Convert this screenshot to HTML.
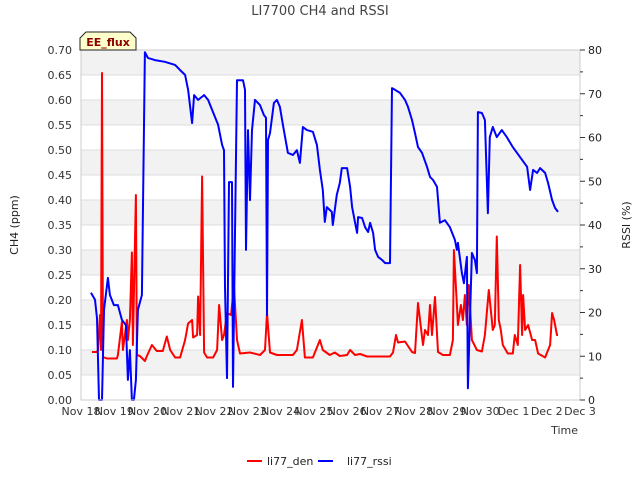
<!DOCTYPE html>
<html><head><meta charset="utf-8"><style>
body{margin:0;background:#fff;font-family:"DejaVu Sans","Liberation Sans",sans-serif}
svg text{font-family:"DejaVu Sans","Liberation Sans",sans-serif}
</style></head><body>
<svg id="chart" width="640" height="480" viewBox="0 0 640 480" xmlns="http://www.w3.org/2000/svg">
<text x="320" y="15" text-anchor="middle" font-size="13" fill="#444">LI7700 CH4 and RSSI</text>
<g id="bands"></g>
<g id="grid"></g>
<g id="series"></g>
<rect x="81" y="50" width="499" height="350" fill="none" stroke="#ccc"/>
<g id="axes"></g>
<text transform="translate(18,225) rotate(-90)" text-anchor="middle" font-size="11" fill="#222">CH4 (ppm)</text>
<text transform="translate(630,225) rotate(-90)" text-anchor="middle" font-size="11" fill="#222">RSSI (%)</text>
<text x="578" y="434" text-anchor="end" font-size="11" fill="#333">Time</text>
<g>
<path d="M80,38 L86,32 L130,32 L136,38 L136,50 L80,50 Z" fill="#ffffcc" stroke="#222"/>
<text x="108" y="46" text-anchor="middle" font-size="11" font-weight="bold" fill="#8b0000">EE_flux</text>
</g>
<g>
<g><line x1="247" y1="461" x2="262" y2="461" stroke="#f00" stroke-width="2"/><text x="267" y="465" font-size="11" fill="#222">li77_den</text></g>
<g><line x1="318" y1="461" x2="333" y2="461" stroke="#00f" stroke-width="2"/><text x="347" y="465" font-size="11" fill="#222">li77_rssi</text></g>
</g>
</svg>
<script>
const xTickLabels=["Nov 18","Nov 19","Nov 20","Nov 21","Nov 22","Nov 23","Nov 24","Nov 25","Nov 26","Nov 27","Nov 28","Nov 29","Nov 30","Dec 1","Dec 2","Dec 3"];
const leftTicks=[0,0.05,0.1,0.15,0.2,0.25,0.3,0.35,0.4,0.45,0.5,0.55,0.6,0.65,0.7];
const rightTicks=[0,10,20,30,40,50,60,70,80];
const denDays=[0.33,0.48,0.51,0.57,0.60,0.63,0.66,0.78,1.08,1.11,1.23,1.26,1.38,1.41,1.47,1.53,1.56,1.65,1.68,1.77,1.92,1.98,2.13,2.28,2.46,2.58,2.68,2.83,2.98,3.13,3.22,3.34,3.37,3.49,3.52,3.58,3.64,3.70,3.79,3.97,4.09,4.15,4.24,4.30,4.39,4.51,4.60,4.69,4.78,5.08,5.38,5.53,5.59,5.68,5.89,6.37,6.49,6.64,6.73,6.97,7.18,7.27,7.48,7.63,7.78,8.0,8.09,8.24,8.39,8.60,9.29,9.38,9.47,9.53,9.74,9.95,10.04,10.13,10.28,10.34,10.43,10.49,10.55,10.64,10.73,10.88,11.09,11.18,11.21,11.30,11.33,11.42,11.48,11.54,11.60,11.66,11.75,11.90,12.05,12.14,12.26,12.38,12.44,12.50,12.56,12.62,12.68,12.83,12.98,13.04,13.13,13.20,13.26,13.29,13.35,13.44,13.56,13.65,13.74,13.95,14.10,14.16,14.22,14.31,14.34];
const denValues=[0.096,0.096,0.10,0.17,0.10,0.654,0.086,0.083,0.083,0.09,0.156,0.10,0.16,0.12,0.16,0.295,0.11,0.41,0.09,0.088,0.078,0.088,0.11,0.098,0.098,0.127,0.10,0.085,0.085,0.12,0.153,0.16,0.125,0.13,0.207,0.13,0.447,0.095,0.085,0.085,0.10,0.19,0.12,0.13,0.174,0.17,0.227,0.12,0.093,0.095,0.09,0.10,0.174,0.095,0.09,0.09,0.10,0.16,0.085,0.085,0.12,0.10,0.09,0.095,0.088,0.09,0.10,0.09,0.092,0.087,0.087,0.095,0.13,0.115,0.117,0.096,0.094,0.194,0.11,0.14,0.13,0.19,0.13,0.206,0.096,0.09,0.09,0.12,0.30,0.19,0.15,0.19,0.16,0.21,0.15,0.23,0.12,0.10,0.097,0.13,0.22,0.14,0.15,0.327,0.16,0.14,0.11,0.093,0.093,0.13,0.11,0.27,0.13,0.21,0.14,0.15,0.12,0.12,0.093,0.085,0.11,0.174,0.16,0.13,0.13];
const rssiDays=[0.30,0.42,0.48,0.54,0.63,0.69,0.81,0.87,0.99,1.11,1.23,1.35,1.41,1.47,1.53,1.59,1.65,1.71,1.83,1.92,2.01,2.22,2.52,2.83,2.98,3.13,3.22,3.34,3.40,3.52,3.70,3.82,3.94,4.12,4.24,4.30,4.33,4.39,4.45,4.54,4.57,4.69,4.87,4.93,4.96,5.02,5.08,5.14,5.23,5.38,5.50,5.56,5.59,5.62,5.68,5.80,5.89,5.98,6.07,6.22,6.37,6.49,6.58,6.67,6.79,6.97,7.09,7.18,7.27,7.33,7.39,7.54,7.57,7.69,7.78,7.84,8.00,8.09,8.15,8.24,8.30,8.33,8.45,8.54,8.63,8.69,8.78,8.84,8.93,9.05,9.14,9.29,9.35,9.44,9.59,9.74,9.83,9.95,10.04,10.13,10.25,10.40,10.49,10.58,10.70,10.79,10.94,11.09,11.24,11.30,11.33,11.45,11.51,11.60,11.63,11.75,11.84,11.90,11.93,12.05,12.14,12.23,12.29,12.38,12.50,12.65,12.80,12.98,13.20,13.41,13.50,13.59,13.71,13.80,13.95,14.04,14.16,14.25,14.34];
const rssiValues=[24.5,22.9,18.7,0,0,20.6,27.9,24,21.7,21.7,18.3,17.1,4.6,11.4,0,0,4.6,20.6,24,79.5,78.2,77.7,77.3,76.6,75.4,74.3,70.9,63.3,69.7,68.6,69.7,68.6,66.3,62.9,58.3,57.1,25.8,5,49.8,49.8,3,73.1,73.1,70.9,34.3,61.7,45.7,61.7,68.6,67.4,65.1,64.5,19.4,59.4,61,67.9,68.6,67,62.9,56.5,56,57.1,54.2,62.4,61.7,61.3,58.3,52.6,48,40.7,44.1,43,40,46.9,49.6,53,53,48.7,44.1,40.5,38.2,41.8,41.6,39.5,38.4,40.5,38.2,34.3,32.7,32,31.3,31.3,71.3,70.9,70.2,68.6,67,64,61,57.8,56.5,53.3,51,50.3,48.7,40.5,41.1,39.5,36.6,34.3,35.9,29,26.7,32.7,2.7,33.6,32,29,65.8,65.6,64,42.7,60.1,62.4,60.1,61.7,60.1,57.8,55.5,53.3,48,52.6,51.9,53,51.9,49.6,45.7,43.9,43];
const X0=81,X1=580,Y0=400,Y1=50;
const xs=d=>X0+d*(X1-X0)/15;
const yl=v=>Y0-v*(Y0-Y1)/0.7;
const yr=v=>Y0-v*(Y0-Y1)/80;
const NS="http://www.w3.org/2000/svg";
function mk(tag,attrs,parent){const e=document.createElementNS(NS,tag);for(const k in attrs)e.setAttribute(k,attrs[k]);parent.appendChild(e);return e;}
const bands=document.getElementById('bands'),grid=document.getElementById('grid'),axes=document.getElementById('axes'),series=document.getElementById('series');
for(let i=0;i<leftTicks.length-1;i++){
  if((leftTicks.length-2-i)%2===0){
    const r=mk('rect',{x:X0,y:yl(leftTicks[i+1]),width:X1-X0,height:yl(leftTicks[i])-yl(leftTicks[i+1]),fill:'#f2f2f2'},bands);
    
    
  }
}
leftTicks.forEach(v=>{
  const l=mk('line',{x1:X0,x2:X1,y1:yl(v),y2:yl(v),stroke:'#ddd'},grid);
  
  
  const t=mk('text',{x:72,y:yl(v)+4,'text-anchor':'end','font-size':11,fill:'#333'},axes);
  t.textContent=v.toFixed(2);
  
  
});
rightTicks.forEach(v=>{
  const l=mk('line',{x1:X1,x2:X1+5,y1:yr(v),y2:yr(v),stroke:'#333'},axes);
  
  
  const t=mk('text',{x:588,y:yr(v)+4,'font-size':11,fill:'#222'},axes);
  t.textContent=v;
  
  
  if(v<80){const m=mk('line',{x1:X1,x2:X1+3,y1:yr(v+5),y2:yr(v+5),stroke:'#333'},axes);
  
  }
});
xTickLabels.forEach((s,i)=>{
  const t=mk('text',{x:xs(i),y:415,'text-anchor':'middle','font-size':11,fill:'#333'},axes);
  t.textContent=s;
  
  
});
const den=mk('polyline',{points:denDays.map((d,i)=>xs(d).toFixed(1)+','+yl(denValues[i]).toFixed(1)).join(' '),fill:'none',stroke:'#f00','stroke-width':2,'stroke-linejoin':'round'},series);


const rs=mk('polyline',{points:rssiDays.map((d,i)=>xs(d).toFixed(1)+','+yr(rssiValues[i]).toFixed(1)).join(' '),fill:'none',stroke:'#00f','stroke-width':2,'stroke-linejoin':'round'},series);


</script>
</body></html>
